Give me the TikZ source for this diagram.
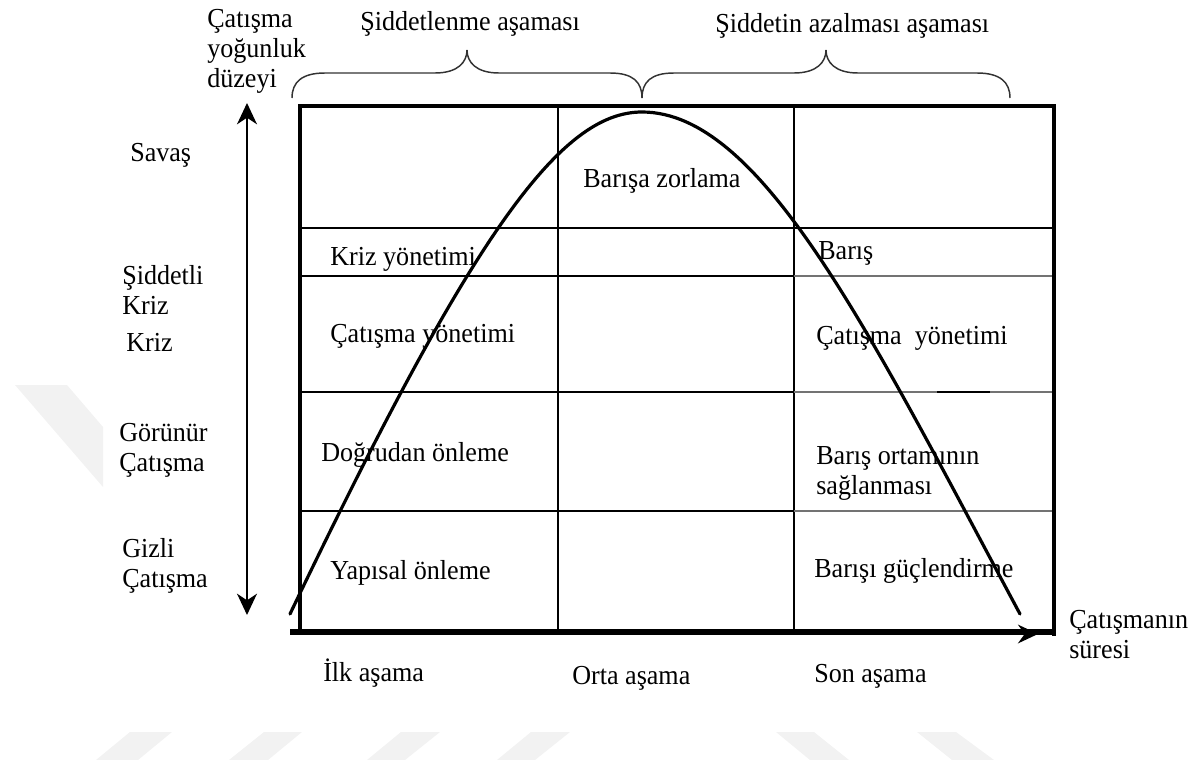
\documentclass[tikz,border=0pt]{standalone}
\usepackage{fontspec}
\setmainfont{Liberation Serif}[FakeStretch=0.95]
\usetikzlibrary{arrows.meta}
\begin{document}
\begin{tikzpicture}[x=0.75pt,y=-0.75pt,
  lbl/.style={font=\fontsize{20.6}{22.5}\selectfont, inner sep=0pt, anchor=base west, align=left},
  frame/.style={line width=3.4pt},
  gridd/.style={line width=1.4pt},
  gridl/.style={line width=1.4pt, black!55},
  curvestyle/.style={line width=2.4pt, line join=round, line cap=round},
  bracestyle/.style={line width=1.1pt, black!80},
  axisarrow/.style={line width=1.5pt, {Stealth[length=16pt,width=15pt,inset=5pt]}-{Stealth[length=16pt,width=15pt,inset=5pt]}},
  timearrow/.style={line width=2pt, -{Stealth[length=15pt,width=14pt,inset=5pt]}},
  wm/.style={fill=black!5, draw=none}]
\useasboundingbox (0,0) rectangle (1199,760);
% faint watermark
\fill[wm] (15,385) -- (67,385) -- (103,427) -- (103,487) -- cycle;
\fill[wm] (96,760) -- (138,760) -- (172,732) -- (130,732) -- cycle;
\fill[wm] (229,760) -- (268,760) -- (302,732) -- (264,732) -- cycle;
\fill[wm] (367,760) -- (405,760) -- (440,732) -- (401,732) -- cycle;
\fill[wm] (497,760) -- (535,760) -- (570,732) -- (531,732) -- cycle;
\fill[wm] (810,760) -- (849,760) -- (814,732) -- (776,732) -- cycle;
\fill[wm] (952,760) -- (994,760) -- (956,732) -- (917,732) -- cycle;
% grid
\draw[gridd] (558,106) -- (558,632);
\draw[gridd] (794,106) -- (794,632);
\draw[gridd] (300,228) -- (1054,228);
\draw[gridd] (300,276) -- (794,276);
\draw[gridl] (794,276) -- (1054,276);
\draw[gridd] (300,392) -- (794,392);
\draw[gridl] (794,392) -- (1054,392);
\draw[line width=1.8pt] (937,392) -- (990,392);
\draw[gridd] (300,511) -- (794,511);
\draw[gridl] (794,511) -- (1054,511);
% frame
\draw[frame] (300,632) -- (300,106) -- (1054,106) -- (1054,636);
\draw[line width=4pt] (290,632) -- (1054,632);
% curve
\draw[curvestyle] (290,614) .. controls (472,234) and (560,112) .. (642,112) .. controls (762,112) and (870,334) .. (1020,614);
% braces
\draw[bracestyle] (292,98) .. controls (292,82) and (302,73) .. (325,73) -- (435,73) .. controls (458,73) and (467,62) .. (467,50) .. controls (467,62) and (476,73) .. (499,73) -- (610,73) .. controls (633,73) and (642,82) .. (642,98);
\draw[bracestyle] (642,98) .. controls (642,82) and (651,73) .. (674,73) -- (794,73) .. controls (817,73) and (826,62) .. (826,50) .. controls (826,62) and (835,73) .. (858,73) -- (977,73) .. controls (1000,73) and (1010,82) .. (1010,98);
% axes
\coordinate (ybot) at (247,615);
\coordinate (ytop) at (247,103);
\draw[axisarrow] (ybot) -- (ytop);
\coordinate (xs) at (799,634);
\coordinate (xe) at (1038,634);
\draw[timearrow] (xs) -- (xe);
% labels (multi-line: position is the baseline of the last line)
\node[lbl] (ylab) at (207,87) {Çatışma\\yoğunluk\\düzeyi};
\node[lbl] (ph1) at (360,30) {Şiddetlenme aşaması};
\node[lbl] (ph2) at (715,32) {Şiddetin azalması aşaması};
\node[lbl] (savas) at (130,161) {Savaş};
\node[lbl] (siddetli) at (122,314) {Şiddetli\\Kriz};
\node[lbl] (kriz) at (126,351) {Kriz};
\node[lbl] (gorunur) at (119,471) {Görünür\\Çatışma};
\node[lbl] (gizli) at (122,587) {Gizli\\Çatışma};
\node[lbl] (zorlama) at (583,187) {Barışa zorlama};
\node[lbl] (krizy) at (330,265) {Kriz yönetimi};
\node[lbl] (baris) at (818,259) {Barış};
\node[lbl] (caty1) at (330,342) {Çatışma yönetimi};
\node[lbl] (caty2) at (816,344) {Çatışma\ \ yönetimi};
\node[lbl] (dogrudan) at (321,461) {Doğrudan önleme};
\node[lbl] (ortam) at (816,494) {Barış ortamının\\sağlanması};
\node[lbl] (yapisal) at (330,579) {Yapısal önleme};
\node[lbl] (guclen) at (814,577) {Barışı güçlendirme};
\node[lbl] (ilk) at (323,681) {İlk aşama};
\node[lbl] (orta) at (572,684) {Orta aşama};
\node[lbl] (son) at (814,682) {Son aşama};
\node[lbl] (sure) at (1069,658) {Çatışmanın\\süresi};
\end{tikzpicture}
\end{document}
